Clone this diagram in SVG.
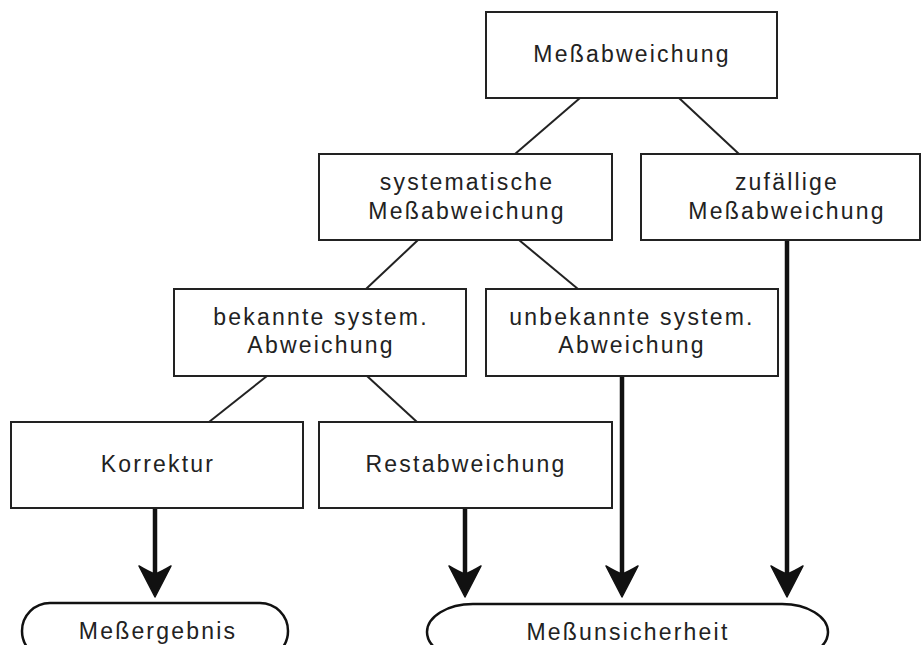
<svg xmlns="http://www.w3.org/2000/svg" width="922" height="645" viewBox="0 0 922 645">
  <style>
    .box { fill: #fff; stroke: #222; stroke-width: 2; }
    .oval { fill: #fff; stroke: #111; stroke-width: 2.5; }
    .lbl { font-family: "Liberation Sans", Arial, sans-serif; font-size: 23px; letter-spacing: 2.2px; fill: #222; text-anchor: middle; }
    .thin { stroke: #222; stroke-width: 2; fill: none; }
    .thick { stroke: #111; stroke-width: 4.5; fill: none; marker-end: url(#arr); }
  </style>
  <defs>
    <marker id="arr" markerUnits="userSpaceOnUse" viewBox="-34 -18 36 36" refX="-7" refY="0" markerWidth="36" markerHeight="36" orient="auto">
      <path d="M0,0 L-31,-16 Q-25,-6 -23,0 Q-25,6 -31,16 Z" fill="#111" stroke="#111" stroke-width="1.5" stroke-linejoin="round"/>
    </marker>
  </defs>
  <rect width="922" height="645" fill="#fff"/>

  <g id="connectors">
    <line class="thin" x1="580" y1="98" x2="515" y2="154"/>
    <line class="thin" x1="679" y1="98" x2="739" y2="154"/>
    <line class="thin" x1="418" y1="240" x2="366" y2="289"/>
    <line class="thin" x1="519" y1="240" x2="578" y2="289"/>
    <line class="thin" x1="267" y1="376" x2="209" y2="422"/>
    <line class="thin" x1="367" y1="376" x2="417" y2="422"/>
    <line class="thick" x1="155" y1="508" x2="155" y2="590"/>
    <line class="thick" x1="465" y1="508" x2="465" y2="590"/>
    <line class="thick" x1="622" y1="376" x2="622" y2="590"/>
    <line class="thick" x1="787" y1="240" x2="787" y2="590"/>
  </g>

  <g id="n-messabweichung">
    <rect class="box" x="486" y="12" width="291" height="86"/>
    <text class="lbl" x="632" y="62">Meßabweichung</text>
  </g>
  <g id="n-systematische">
    <rect class="box" x="319" y="154" width="293" height="86"/>
    <text class="lbl" x="467" y="190">systematische</text>
    <text class="lbl" x="467" y="219">Meßabweichung</text>
  </g>
  <g id="n-zufaellige">
    <rect class="box" x="641" y="154" width="279" height="86"/>
    <text class="lbl" x="787" y="190">zufällige</text>
    <text class="lbl" x="787" y="219">Meßabweichung</text>
  </g>
  <g id="n-bekannte">
    <rect class="box" x="174" y="289" width="292" height="87"/>
    <text class="lbl" x="321" y="325">bekannte system.</text>
    <text class="lbl" x="321" y="353">Abweichung</text>
  </g>
  <g id="n-unbekannte">
    <rect class="box" x="486" y="289" width="292" height="87"/>
    <text class="lbl" x="632" y="325">unbekannte system.</text>
    <text class="lbl" x="632" y="353">Abweichung</text>
  </g>
  <g id="n-korrektur">
    <rect class="box" x="11" y="422" width="292" height="86"/>
    <text class="lbl" x="158" y="472">Korrektur</text>
  </g>
  <g id="n-restabweichung">
    <rect class="box" x="319" y="422" width="293" height="86"/>
    <text class="lbl" x="466" y="472">Restabweichung</text>
  </g>
  <g id="n-messergebnis">
    <path class="oval" d="M50,603 H260 A28,28 0 0 1 260,659 H50 A28,28 0 0 1 50,603 Z"/>
    <text class="lbl" x="158" y="639">Meßergebnis</text>
  </g>
  <g id="n-messunsicherheit">
    <path class="oval" d="M473,604 H782 A46,28 0 0 1 782,660 H473 A46,28 0 0 1 473,604 Z"/>
    <text class="lbl" x="628" y="640">Meßunsicherheit</text>
  </g>
</svg>
